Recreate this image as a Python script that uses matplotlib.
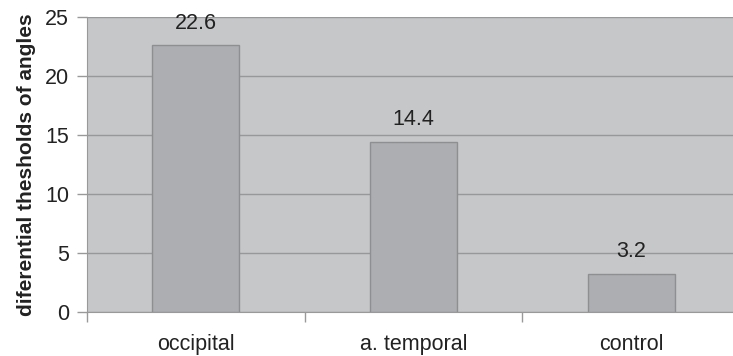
import numpy as np
import matplotlib.pyplot as plt

plt.rcParams['font.family'] = ['Liberation Sans', 'DejaVu Sans']

########### data ###########
groups = ['occipital', 'a. temporal', 'control']
thresholds = [22.6, 14.4, 3.2]
yticks = [0, 5, 10, 15, 20, 25]

fig = plt.figure(figsize=(7.33, 3.56), dpi=100)
ax = fig.add_axes([0.1187, 0.1236, 0.891, 0.8286])
ax.set_facecolor('#c6c7c9')

x = np.arange(len(groups))
ax.bar(x, thresholds, width=0.4, color='#acaeb1', edgecolor='#8e8f91', linewidth=1, zorder=3)
for xi, v in zip(x, thresholds):
	ax.text(xi, v + 1.0, '%.1f' % v, ha='center', va='bottom', fontsize=15.5, color='#222222', zorder=4)

ax.set_xlim(-0.5, 2.5)
ax.set_ylim(0, 25)
ax.set_yticks(yticks)
ax.yaxis.grid(True, color='#97989a', linewidth=1, zorder=1)
ax.set_axisbelow(True)

# category ticks sit between the groups
ax.set_xticks([-0.5, 0.5, 1.5])
ax.set_xticklabels([])
ax.set_xticks(x, minor=True)
ax.set_xticklabels(groups, minor=True, fontsize=15.5, color='#222222')
ax.tick_params(axis='x', which='minor', length=0, pad=16)
ax.tick_params(axis='x', which='major', length=7, color='#999999', width=1)
ax.tick_params(axis='y', length=7, color='#999999', width=1, labelsize=15.5, labelcolor='#222222', pad=6)

for s in ['top', 'right']:
	ax.spines[s].set_visible(False)
ax.spines['left'].set_color('#999999')
ax.spines['bottom'].set_color('#999999')

ax.set_ylabel('diferential thesholds of angles', fontsize=15, fontweight='bold', color='#222222', labelpad=6)

fig.savefig('out.png', dpi=100)
